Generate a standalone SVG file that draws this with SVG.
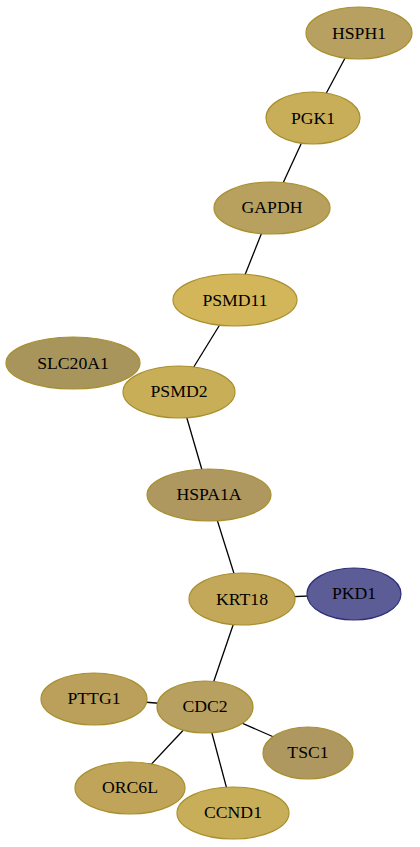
<svg xmlns="http://www.w3.org/2000/svg" width="420" height="847" viewBox="0 0 420 847">
<style>
.e{stroke:#000;stroke-width:1.3;fill:none}
.n{stroke:#a8902e;stroke-width:1.2}
.t{font-family:'Liberation Serif',Times,serif;font-size:17.7px;text-anchor:middle;fill:#000}
</style>
<rect width="420" height="847" fill="#fff"/>
<g id="edges">
<line class="e" x1="359" y1="32" x2="313" y2="118"/>
<line class="e" x1="313" y1="118" x2="272" y2="207"/>
<line class="e" x1="272" y1="207" x2="235" y2="300"/>
<line class="e" x1="235" y1="300" x2="179" y2="391"/>
<line class="e" x1="179" y1="391" x2="209" y2="494"/>
<line class="e" x1="209" y1="494" x2="242" y2="599"/>
<line class="e" x1="242" y1="599" x2="354" y2="594"/>
<line class="e" x1="242" y1="599" x2="205" y2="707"/>
<line class="e" x1="94" y1="698" x2="205" y2="707"/>
<line class="e" x1="205" y1="707" x2="308" y2="752"/>
<line class="e" x1="205" y1="707" x2="130" y2="787"/>
<line class="e" x1="205" y1="707" x2="233" y2="812"/>
</g>
<g id="HSPH1"><ellipse class="n" cx="359" cy="33" rx="53" ry="26" fill="#b8a060"/><text class="t" x="359" y="39">HSPH1</text></g>
<g id="PGK1"><ellipse class="n" cx="313" cy="118" rx="47" ry="26" fill="#c9ae5a"/><text class="t" x="313" y="124">PGK1</text></g>
<g id="GAPDH"><ellipse class="n" cx="272" cy="208" rx="58" ry="26" fill="#b8a05e"/><text class="t" x="272" y="213">GAPDH</text></g>
<g id="PSMD11"><ellipse class="n" cx="235" cy="300" rx="62" ry="26" fill="#d4b65a"/><text class="t" x="235" y="306">PSMD11</text></g>
<g id="SLC20A1"><ellipse class="n" cx="73" cy="363" rx="67" ry="26" fill="#a8955c"/><text class="t" x="73" y="369">SLC20A1</text></g>
<g id="PSMD2"><ellipse class="n" cx="179" cy="392" rx="56" ry="26" fill="#c9ae58"/><text class="t" x="179" y="397">PSMD2</text></g>
<g id="HSPA1A"><ellipse class="n" cx="209" cy="495" rx="62" ry="26" fill="#ae9860"/><text class="t" x="209" y="500">HSPA1A</text></g>
<g id="KRT18"><ellipse class="n" cx="242" cy="599" rx="53" ry="26" fill="#c4a85a"/><text class="t" x="242" y="605">KRT18</text></g>
<g id="PKD1"><ellipse cx="354" cy="594" rx="47" ry="26" fill="#5c5c96" stroke="#30307a" stroke-width="1.2"/><text class="t" x="354" y="599">PKD1</text></g>
<g id="CDC2"><ellipse class="n" cx="205" cy="707" rx="48" ry="26" fill="#b8a060"/><text class="t" x="205" y="712">CDC2</text></g>
<g id="PTTG1"><ellipse class="n" cx="94" cy="699" rx="53" ry="26" fill="#baa05a"/><text class="t" x="94" y="704">PTTG1</text></g>
<g id="TSC1"><ellipse class="n" cx="308" cy="753" rx="45" ry="26" fill="#ae9860"/><text class="t" x="308" y="758">TSC1</text></g>
<g id="ORC6L"><ellipse class="n" cx="130" cy="788" rx="55" ry="26" fill="#c0a45a"/><text class="t" x="130" y="793">ORC6L</text></g>
<g id="CCND1"><ellipse class="n" cx="233" cy="813" rx="56" ry="26" fill="#c9ae5a"/><text class="t" x="233" y="818">CCND1</text></g>
</svg>
